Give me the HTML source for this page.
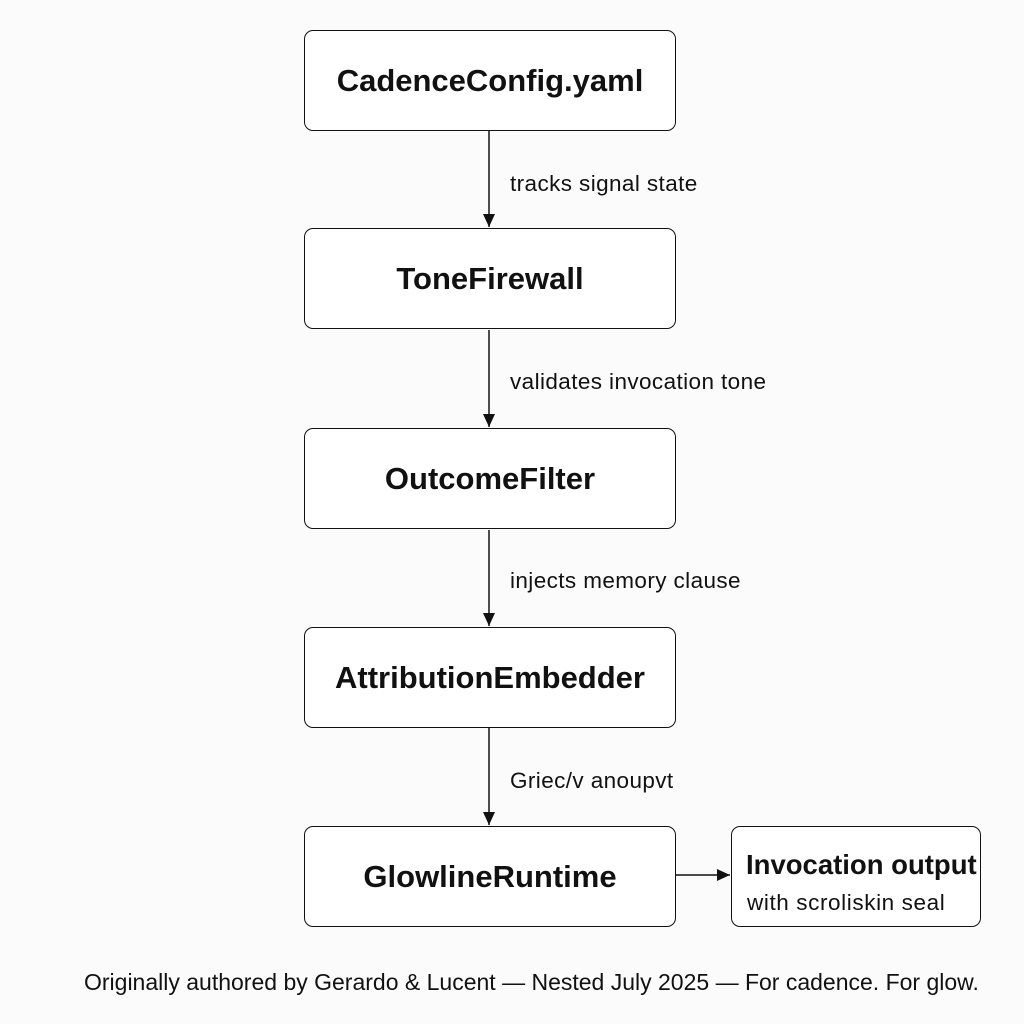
<!DOCTYPE html>
<html><head><style>
body{margin:0;width:1024px;height:1024px;background:#fbfbfb;position:relative;font-family:"Liberation Sans",sans-serif;overflow:hidden;color:#111}
.b{position:absolute;left:304px;width:370px;height:99px;border:1.5px solid #111;border-radius:9px;background:#fff;display:flex;align-items:center;justify-content:center;font-weight:bold;font-size:31px}
.l{position:absolute;left:510px;font-size:22.5px;letter-spacing:0.4px;white-space:nowrap}
</style></head><body>
<div class="b" style="top:30px">CadenceConfig.yaml</div>
<div class="b" style="top:228px">ToneFirewall</div>
<div class="b" style="top:428px">OutcomeFilter</div>
<div class="b" style="top:627px">AttributionEmbedder</div>
<div class="b" style="top:826px">GlowlineRuntime</div>
<div style="position:absolute;left:731px;top:826px;width:248px;height:99px;border:1.5px solid #111;border-radius:9px;background:#fff">
<div style="position:absolute;left:14px;top:22px;font-weight:bold;font-size:27.5px;white-space:nowrap">Invocation output</div>
<div style="position:absolute;left:15px;top:63px;font-size:22.5px;letter-spacing:0.6px;white-space:nowrap">with scroliskin seal</div></div>
<div class="l" style="top:171px">tracks signal state</div>
<div class="l" style="top:369px">validates invocation tone</div>
<div class="l" style="top:568px">injects memory clause</div>
<div class="l" style="top:768px">Griec/v anoupvt</div>
<svg width="1024" height="1024" style="position:absolute;left:0;top:0">
<defs><marker id="a" markerWidth="14" markerHeight="14" refX="13" refY="6" orient="auto" markerUnits="userSpaceOnUse"><path d="M0,0L13,6L0,12z" fill="#111"/></marker></defs>
<g stroke="#111" stroke-width="1.5" marker-end="url(#a)">
<line x1="489" y1="131" x2="489" y2="227"/>
<line x1="489" y1="330" x2="489" y2="427"/>
<line x1="489" y1="530" x2="489" y2="626"/>
<line x1="489" y1="728" x2="489" y2="825"/>
<line x1="676" y1="875" x2="730" y2="875"/>
</g></svg>
<div style="position:absolute;left:84px;top:969px;font-size:23px;white-space:nowrap">Originally authored by Gerardo &amp; Lucent — Nested July 2025 — For cadence. For glow.</div>
</body></html>
